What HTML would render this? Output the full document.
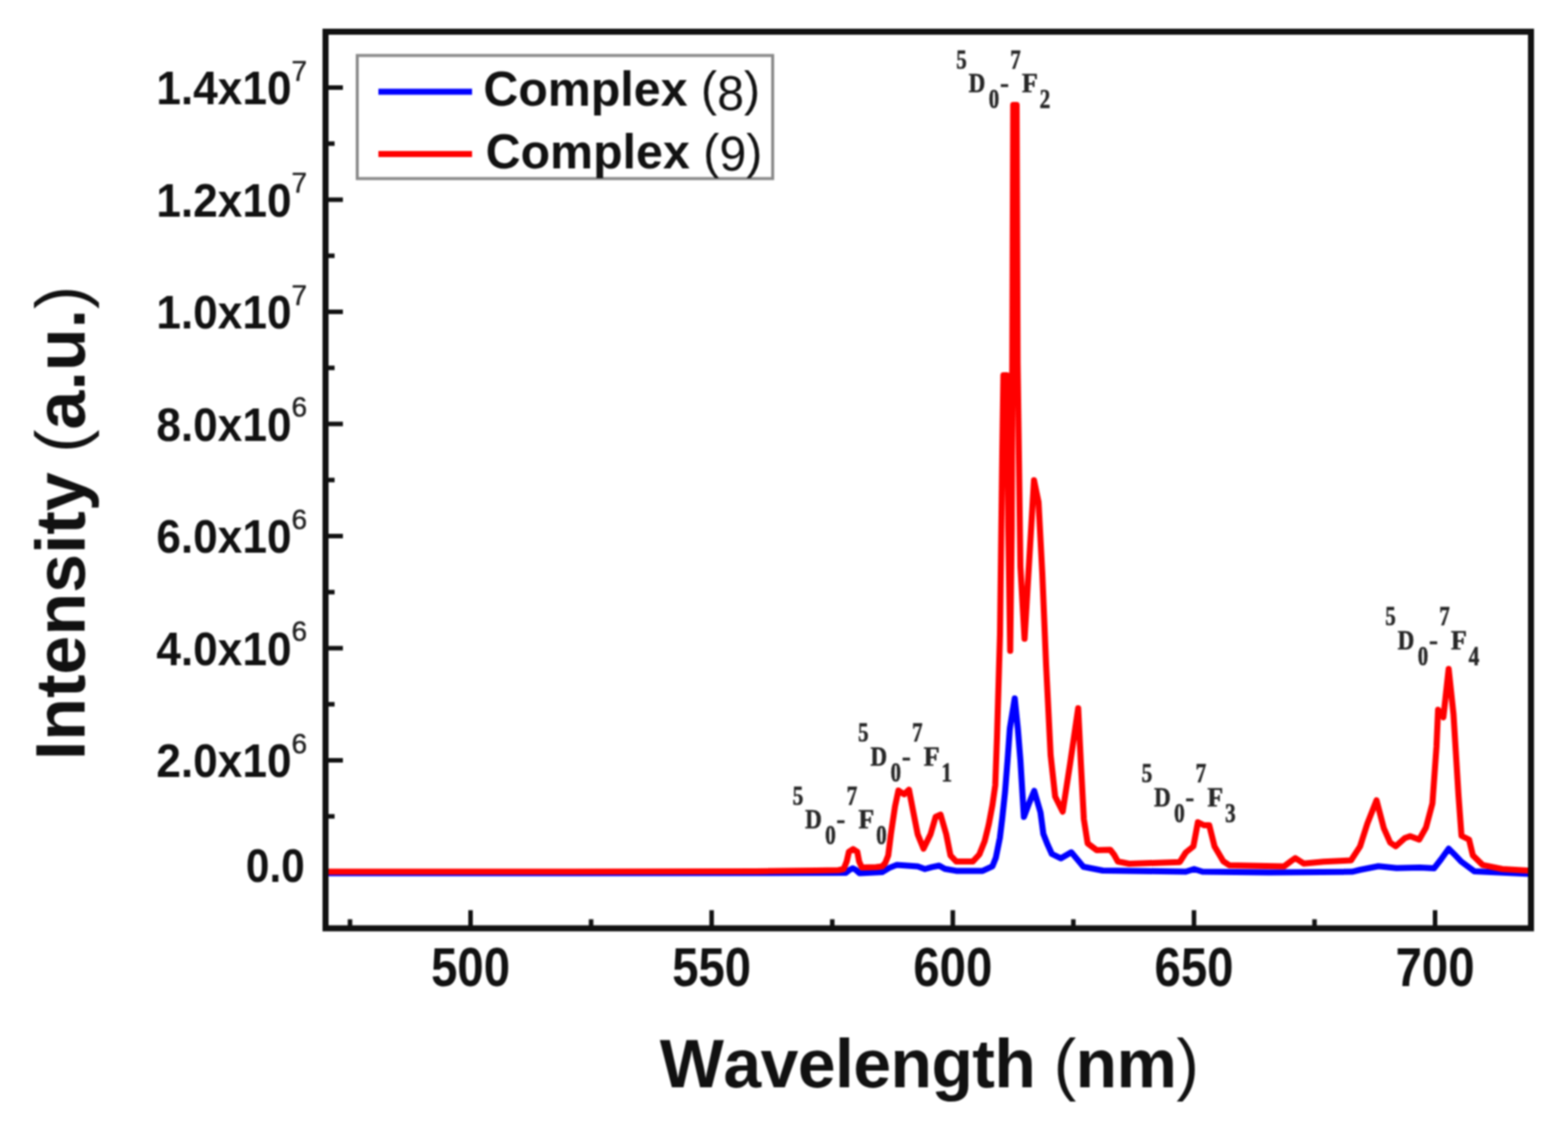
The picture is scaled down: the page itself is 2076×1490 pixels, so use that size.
<!DOCTYPE html>
<html><head><meta charset="utf-8"><title>Emission spectra</title>
<style>
html,body{margin:0;padding:0;background:#fff;}
body{width:2076px;height:1490px;overflow:hidden;}
svg{display:block;filter:blur(1.1px);}
text{font-kerning:none;}
</style></head>
<body>
<svg width="2076" height="1490" viewBox="0 0 2076 1490" fill="#111">
<rect width="2076" height="1490" fill="#fff"/>
<defs><clipPath id="plot"><rect x="431" y="42" width="1596" height="1187"/></clipPath></defs>
<path d="M431,1155.5h23 M431,1081.2h12 M431,1007.0h23 M431,932.8h12 M431,858.5h23 M431,784.2h12 M431,710.0h23 M431,635.8h12 M431,561.5h23 M431,487.2h12 M431,413.0h23 M431,338.8h12 M431,264.5h23 M431,190.2h12 M431,116.0h23 M463.4,1229.5v-12 M623.0,1229.5v-24 M782.6,1229.5v-12 M942.2,1229.5v-24 M1101.9,1229.5v-12 M1261.5,1229.5v-24 M1421.1,1229.5v-12 M1580.8,1229.5v-24 M1740.4,1229.5v-12 M1900.0,1229.5v-24" stroke="#111" stroke-width="6" fill="none"/>
<g clip-path="url(#plot)" fill="none" stroke-linejoin="round" stroke-linecap="round" stroke-width="8">
<polyline stroke="#0000ff" points="431.0,1156.5 1000.0,1156.3 1120.0,1156.0 1125.0,1152.0 1129.0,1150.0 1133.0,1152.0 1138.0,1156.5 1168.0,1155.0 1177.6,1149.4 1187.0,1145.6 1201.0,1146.5 1215.0,1147.5 1224.6,1151.0 1234.0,1148.4 1243.4,1146.5 1251.0,1150.8 1266.0,1153.4 1301.0,1153.4 1314.0,1147.3 1318.5,1136.0 1323.8,1109.8 1327.0,1083.6 1330.7,1048.7 1334.0,1007.0 1337.0,965.0 1343.5,925.0 1347.6,965.0 1351.0,1007.0 1355.6,1082.0 1362.0,1065.0 1369.3,1047.5 1377.6,1076.0 1381.4,1104.6 1387.0,1118.7 1392.6,1131.0 1404.7,1136.8 1418.4,1128.8 1434.4,1148.0 1460.0,1153.0 1570.0,1154.5 1581.0,1151.0 1592.0,1154.5 1680.0,1155.5 1790.0,1154.6 1800.8,1152.0 1825.0,1147.3 1849.0,1149.8 1880.0,1149.0 1898.7,1150.0 1908.0,1138.0 1918.0,1124.0 1926.0,1132.0 1935.0,1141.4 1952.0,1154.0 2027.0,1157.5"/>
<polyline stroke="#ff0000" points="431.0,1154.5 700.0,1154.5 1000.0,1154.0 1080.0,1153.0 1110.0,1152.5 1117.0,1151.0 1121.0,1141.0 1124.0,1128.0 1129.5,1124.5 1135.0,1128.0 1137.5,1141.0 1141.0,1149.0 1160.0,1148.5 1168.0,1147.5 1172.0,1143.0 1176.0,1133.0 1179.5,1105.0 1185.0,1068.0 1189.5,1047.0 1197.0,1052.0 1203.5,1046.0 1209.5,1077.0 1215.0,1105.0 1222.7,1124.0 1232.0,1105.0 1238.7,1082.0 1245.3,1079.0 1252.8,1105.0 1258.4,1133.0 1266.0,1141.0 1288.0,1141.0 1296.7,1131.6 1303.7,1114.0 1309.0,1092.4 1314.0,1066.0 1317.7,1040.0 1320.0,977.0 1324.0,840.0 1327.0,600.0 1328.5,497.0 1333.0,497.0 1335.0,700.0 1337.5,862.0 1339.5,700.0 1341.5,139.0 1346.0,139.0 1347.3,480.0 1351.0,750.0 1356.5,846.0 1369.0,636.0 1375.0,665.0 1380.0,760.0 1385.0,880.0 1391.0,1000.0 1397.0,1055.0 1407.0,1075.0 1417.0,1010.0 1427.5,938.0 1431.0,1010.0 1435.0,1085.0 1440.0,1117.0 1452.0,1126.0 1470.0,1125.5 1475.0,1132.0 1480.0,1141.0 1495.0,1144.0 1562.0,1141.7 1570.0,1129.0 1580.0,1121.0 1586.0,1089.0 1594.0,1093.0 1601.0,1093.0 1608.0,1121.0 1619.5,1140.6 1627.6,1146.0 1700.0,1147.5 1710.0,1140.0 1715.0,1136.5 1726.0,1143.7 1752.5,1141.3 1788.7,1139.5 1800.8,1120.8 1810.4,1090.6 1822.5,1060.0 1832.0,1096.6 1840.6,1116.0 1848.0,1120.8 1860.0,1110.0 1867.0,1107.5 1879.0,1112.0 1888.0,1096.0 1896.5,1064.0 1901.9,989.0 1904.0,940.0 1911.0,950.0 1918.0,886.0 1924.4,946.0 1931.0,1053.0 1935.0,1107.0 1945.0,1112.0 1950.0,1132.8 1963.0,1145.7 1989.0,1151.0 2027.0,1153.2"/>
</g>
<rect x="431" y="42" width="1596" height="1187.5" fill="none" stroke="#111" stroke-width="8"/>
<text x="386" y="138.3" text-anchor="end" font-family="'Liberation Sans', Arial, sans-serif" font-weight="bold" font-size="63" textLength="179" lengthAdjust="spacingAndGlyphs">1.4x10</text>
<text x="386" y="106.5" font-family="'Liberation Sans', Arial, sans-serif" font-size="37" fill="#222" stroke="#222" stroke-width="0.6">7</text>
<text x="386" y="286.8" text-anchor="end" font-family="'Liberation Sans', Arial, sans-serif" font-weight="bold" font-size="63" textLength="179" lengthAdjust="spacingAndGlyphs">1.2x10</text>
<text x="386" y="255.0" font-family="'Liberation Sans', Arial, sans-serif" font-size="37" fill="#222" stroke="#222" stroke-width="0.6">7</text>
<text x="386" y="435.3" text-anchor="end" font-family="'Liberation Sans', Arial, sans-serif" font-weight="bold" font-size="63" textLength="179" lengthAdjust="spacingAndGlyphs">1.0x10</text>
<text x="386" y="403.5" font-family="'Liberation Sans', Arial, sans-serif" font-size="37" fill="#222" stroke="#222" stroke-width="0.6">7</text>
<text x="386" y="583.8" text-anchor="end" font-family="'Liberation Sans', Arial, sans-serif" font-weight="bold" font-size="63" textLength="179" lengthAdjust="spacingAndGlyphs">8.0x10</text>
<text x="386" y="552.0" font-family="'Liberation Sans', Arial, sans-serif" font-size="37" fill="#222" stroke="#222" stroke-width="0.6">6</text>
<text x="386" y="732.3" text-anchor="end" font-family="'Liberation Sans', Arial, sans-serif" font-weight="bold" font-size="63" textLength="179" lengthAdjust="spacingAndGlyphs">6.0x10</text>
<text x="386" y="700.5" font-family="'Liberation Sans', Arial, sans-serif" font-size="37" fill="#222" stroke="#222" stroke-width="0.6">6</text>
<text x="386" y="880.8" text-anchor="end" font-family="'Liberation Sans', Arial, sans-serif" font-weight="bold" font-size="63" textLength="179" lengthAdjust="spacingAndGlyphs">4.0x10</text>
<text x="386" y="849.0" font-family="'Liberation Sans', Arial, sans-serif" font-size="37" fill="#222" stroke="#222" stroke-width="0.6">6</text>
<text x="386" y="1029.3" text-anchor="end" font-family="'Liberation Sans', Arial, sans-serif" font-weight="bold" font-size="63" textLength="179" lengthAdjust="spacingAndGlyphs">2.0x10</text>
<text x="386" y="997.5" font-family="'Liberation Sans', Arial, sans-serif" font-size="37" fill="#222" stroke="#222" stroke-width="0.6">6</text>
<text x="403.5" y="1168" text-anchor="end" font-family="'Liberation Sans', Arial, sans-serif" font-weight="bold" font-size="63" textLength="78" lengthAdjust="spacingAndGlyphs">0.0</text>
<text x="623.0" y="1306" text-anchor="middle" font-family="'Liberation Sans', Arial, sans-serif" font-weight="bold" font-size="72" textLength="104.5" lengthAdjust="spacingAndGlyphs">500</text>
<text x="942.2" y="1306" text-anchor="middle" font-family="'Liberation Sans', Arial, sans-serif" font-weight="bold" font-size="72" textLength="104.5" lengthAdjust="spacingAndGlyphs">550</text>
<text x="1261.5" y="1306" text-anchor="middle" font-family="'Liberation Sans', Arial, sans-serif" font-weight="bold" font-size="72" textLength="104.5" lengthAdjust="spacingAndGlyphs">600</text>
<text x="1580.8" y="1306" text-anchor="middle" font-family="'Liberation Sans', Arial, sans-serif" font-weight="bold" font-size="72" textLength="104.5" lengthAdjust="spacingAndGlyphs">650</text>
<text x="1900.0" y="1306" text-anchor="middle" font-family="'Liberation Sans', Arial, sans-serif" font-weight="bold" font-size="72" textLength="104.5" lengthAdjust="spacingAndGlyphs">700</text>
<text x="1230.5" y="1440" text-anchor="middle" font-family="'Liberation Sans', Arial, sans-serif" font-weight="bold" font-size="90" textLength="714">Wavelength <tspan font-weight="normal">(</tspan>nm<tspan font-weight="normal">)</tspan></text>
<text transform="translate(111.5,692.5) rotate(-90)" text-anchor="middle" font-family="'Liberation Sans', Arial, sans-serif" font-weight="bold" font-size="92.7">Intensity <tspan font-weight="normal">(</tspan>a.u.<tspan font-weight="normal">)</tspan></text>
<rect x="473" y="73.5" width="550" height="163" fill="none" stroke="#8a8a8a" stroke-width="4"/>
<line x1="501" y1="121.5" x2="625" y2="121.5" stroke="#0000ff" stroke-width="8"/>
<line x1="501" y1="204" x2="625" y2="204" stroke="#ff0000" stroke-width="8"/>
<text x="640" y="139.5" font-family="'Liberation Sans', Arial, sans-serif" font-weight="bold" font-size="64">Complex <tspan font-weight="normal">(<tspan dy="6">8</tspan><tspan dy="-6">)</tspan></tspan></text>
<text x="643" y="222.5" font-family="'Liberation Sans', Arial, sans-serif" font-weight="bold" font-size="64">Complex <tspan font-weight="normal">(<tspan dy="3">9</tspan><tspan dy="-3">)</tspan></tspan></text>
<g font-family="'Liberation Serif', 'Times New Roman', serif" font-weight="bold" font-size="35" fill="#262626" stroke="#262626" stroke-width="0.7"><text x="1056.5" y="1065.5" text-anchor="middle" textLength="14" lengthAdjust="spacingAndGlyphs">5</text><text x="1066.0" y="1097.0" textLength="22" lengthAdjust="spacingAndGlyphs">D</text><text x="1099.5" y="1118.0" text-anchor="middle" textLength="14" lengthAdjust="spacingAndGlyphs">0</text><text x="1107.5" y="1097.0">-</text><text x="1128.0" y="1065.5" text-anchor="middle" textLength="14" lengthAdjust="spacingAndGlyphs">7</text><text x="1136.5" y="1097.0" textLength="21" lengthAdjust="spacingAndGlyphs">F</text><text x="1167.0" y="1118.0" text-anchor="middle" textLength="14" lengthAdjust="spacingAndGlyphs">0</text></g>
<g font-family="'Liberation Serif', 'Times New Roman', serif" font-weight="bold" font-size="35" fill="#262626" stroke="#262626" stroke-width="0.7"><text x="1143.0" y="982.0" text-anchor="middle" textLength="14" lengthAdjust="spacingAndGlyphs">5</text><text x="1152.5" y="1013.5" textLength="22" lengthAdjust="spacingAndGlyphs">D</text><text x="1186.0" y="1034.5" text-anchor="middle" textLength="14" lengthAdjust="spacingAndGlyphs">0</text><text x="1194.0" y="1013.5">-</text><text x="1214.5" y="982.0" text-anchor="middle" textLength="14" lengthAdjust="spacingAndGlyphs">7</text><text x="1223.0" y="1013.5" textLength="21" lengthAdjust="spacingAndGlyphs">F</text><text x="1253.5" y="1034.5" text-anchor="middle" textLength="14" lengthAdjust="spacingAndGlyphs">1</text></g>
<g font-family="'Liberation Serif', 'Times New Roman', serif" font-weight="bold" font-size="35" fill="#262626" stroke="#262626" stroke-width="0.7"><text x="1273.0" y="90.5" text-anchor="middle" textLength="14" lengthAdjust="spacingAndGlyphs">5</text><text x="1282.5" y="122.0" textLength="22" lengthAdjust="spacingAndGlyphs">D</text><text x="1316.0" y="143.0" text-anchor="middle" textLength="14" lengthAdjust="spacingAndGlyphs">0</text><text x="1324.0" y="122.0">-</text><text x="1344.5" y="90.5" text-anchor="middle" textLength="14" lengthAdjust="spacingAndGlyphs">7</text><text x="1353.0" y="122.0" textLength="21" lengthAdjust="spacingAndGlyphs">F</text><text x="1383.5" y="143.0" text-anchor="middle" textLength="14" lengthAdjust="spacingAndGlyphs">2</text></g>
<g font-family="'Liberation Serif', 'Times New Roman', serif" font-weight="bold" font-size="35" fill="#262626" stroke="#262626" stroke-width="0.7"><text x="1518.5" y="1036.0" text-anchor="middle" textLength="14" lengthAdjust="spacingAndGlyphs">5</text><text x="1528.0" y="1067.5" textLength="22" lengthAdjust="spacingAndGlyphs">D</text><text x="1561.5" y="1088.5" text-anchor="middle" textLength="14" lengthAdjust="spacingAndGlyphs">0</text><text x="1569.5" y="1067.5">-</text><text x="1590.0" y="1036.0" text-anchor="middle" textLength="14" lengthAdjust="spacingAndGlyphs">7</text><text x="1598.5" y="1067.5" textLength="21" lengthAdjust="spacingAndGlyphs">F</text><text x="1629.0" y="1088.5" text-anchor="middle" textLength="14" lengthAdjust="spacingAndGlyphs">3</text></g>
<g font-family="'Liberation Serif', 'Times New Roman', serif" font-weight="bold" font-size="35" fill="#262626" stroke="#262626" stroke-width="0.7"><text x="1841.0" y="828.0" text-anchor="middle" textLength="14" lengthAdjust="spacingAndGlyphs">5</text><text x="1850.5" y="859.5" textLength="22" lengthAdjust="spacingAndGlyphs">D</text><text x="1884.0" y="880.5" text-anchor="middle" textLength="14" lengthAdjust="spacingAndGlyphs">0</text><text x="1892.0" y="859.5">-</text><text x="1912.5" y="828.0" text-anchor="middle" textLength="14" lengthAdjust="spacingAndGlyphs">7</text><text x="1921.0" y="859.5" textLength="21" lengthAdjust="spacingAndGlyphs">F</text><text x="1951.5" y="880.5" text-anchor="middle" textLength="14" lengthAdjust="spacingAndGlyphs">4</text></g>
</svg>
</body></html>
